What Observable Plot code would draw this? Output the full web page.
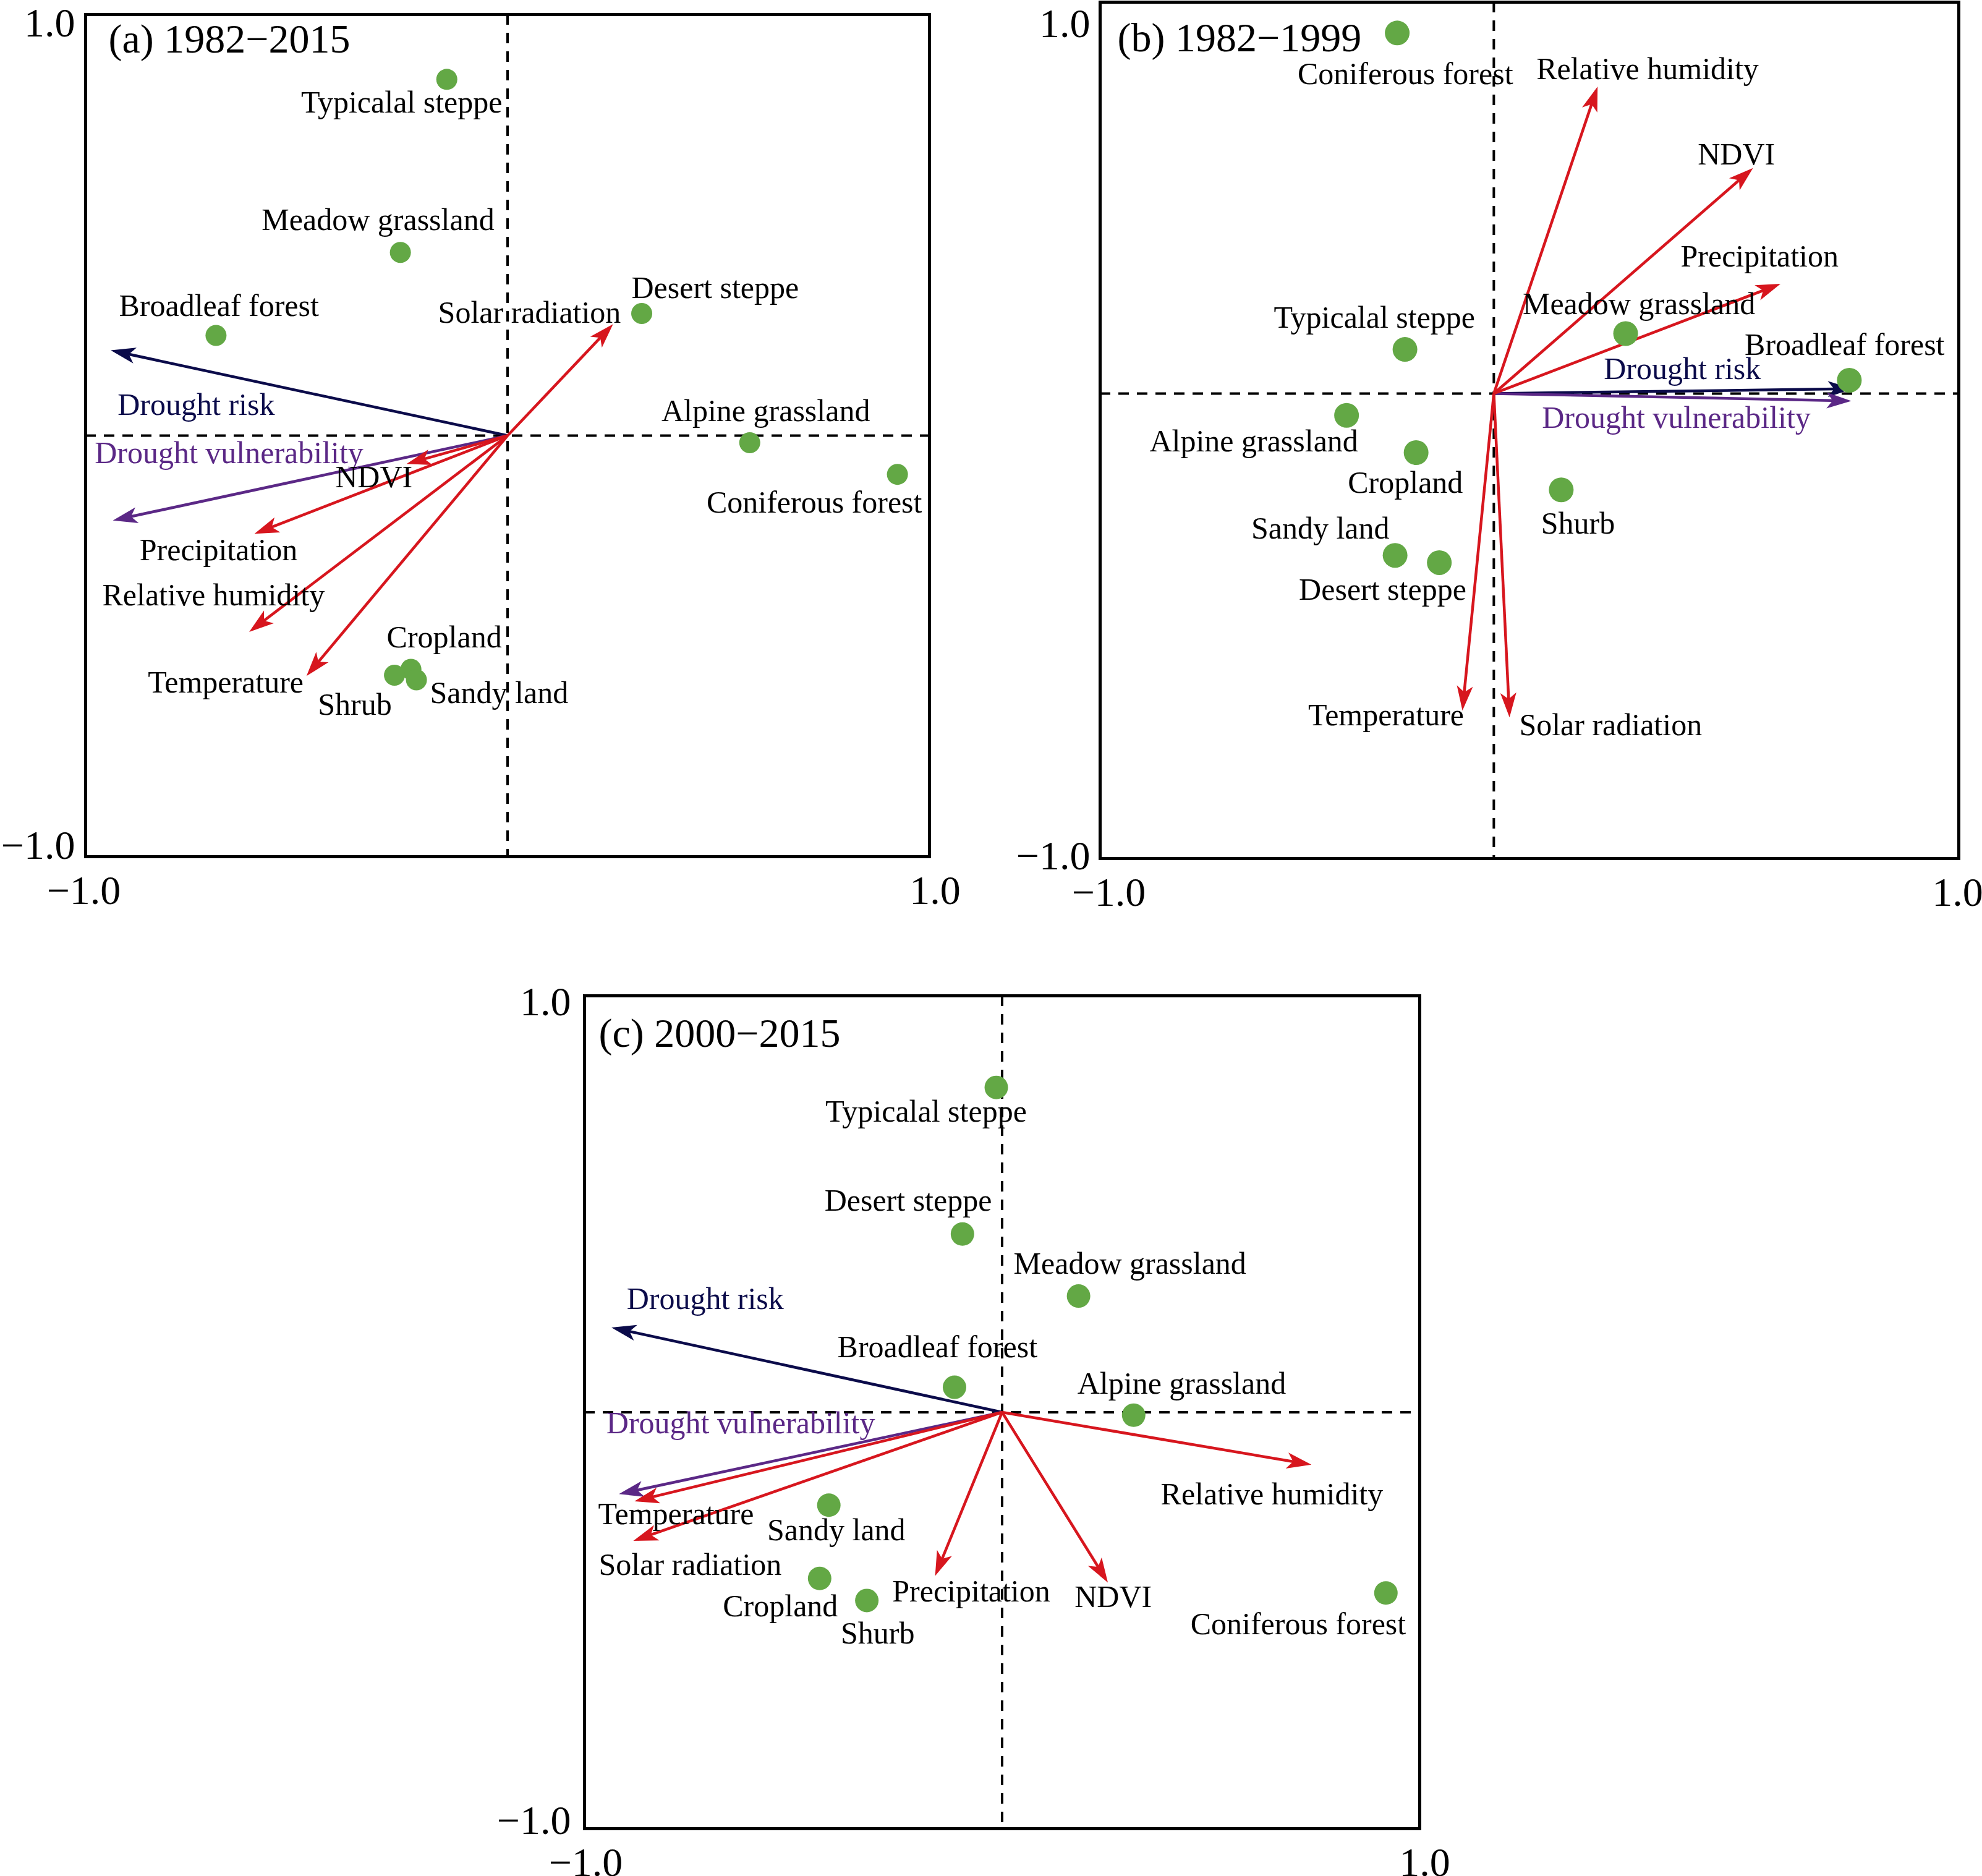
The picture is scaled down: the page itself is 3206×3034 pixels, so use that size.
<!DOCTYPE html>
<html>
<head>
<meta charset="utf-8">
<script src="https://cdn.jsdelivr.net/npm/d3@7"></script>
<script src="https://cdn.jsdelivr.net/npm/@observablehq/plot@0.6"></script>
<style>
html,body{margin:0;padding:0;background:#fff;}
#root{position:relative;width:3206px;height:3034px;background:#fff;overflow:hidden;}
.panel{position:absolute;}
</style>
</head>
<body>
<div id="root"></div>
<script>
// ---------------- DATA ----------------
const variables = ["Drought risk","Drought vulnerability","NDVI","Precipitation","Relative humidity","Temperature","Solar radiation"];

// Panel (a) 1982–2015
const titleA = "(a) 1982\u22122015";
const landsA = ["Typicalal steppe","Meadow grassland","Broadleaf forest","Desert steppe","Alpine grassland","Coniferous forest","Cropland","Shrub","Sandy land"];
const landScoresA = [[-0.144,0.846],[-0.254,0.435],[-0.691,0.238],[0.318,0.290],[0.574,-0.017],[0.924,-0.092],[-0.229,-0.555],[-0.268,-0.569],[-0.216,-0.580]];
const varScoresA = [[-0.929,0.200],[-0.924,-0.199],[-0.228,-0.064],[-0.589,-0.229],[-0.603,-0.459],[-0.469,-0.562],[0.242,0.256]];
const originA = [0, 0];

// Panel (b) 1982–1999
const titleB = "(b) 1982\u22121999";
const landsB = ["Coniferous forest","Typicalal steppe","Meadow grassland","Broadleaf forest","Alpine grassland","Cropland","Shurb","Sandy land","Desert steppe"];
const landScoresB = [[-0.308,0.928],[-0.290,0.189],[0.224,0.226],[0.745,0.117],[-0.426,0.035],[-0.264,-0.052],[0.074,-0.139],[-0.313,-0.292],[-0.210,-0.309]];
const varScoresB = [[0.741,0.097],[0.738,0.069],[0.512,0.605],[0.574,0.338],[0.155,0.792],[-0.155,-0.643],[-0.047,-0.659]];
const originB = [-0.083, 0.086];

// Panel (c) 2000–2015
const titleC = "(c) 2000\u22122015";
const landsC = ["Typicalal steppe","Desert steppe","Meadow grassland","Broadleaf forest","Alpine grassland","Sandy land","Cropland","Shurb","Coniferous forest"];
const landScoresC = [[-0.014,0.780],[-0.095,0.428],[0.183,0.279],[-0.114,0.060],[0.315,-0.007],[-0.415,-0.223],[-0.437,-0.399],[-0.324,-0.452],[0.919,-0.434]];
const varScoresC = [[-0.924,0.201],[-0.906,-0.194],[0.247,-0.399],[-0.156,-0.382],[0.729,-0.124],[-0.869,-0.211],[-0.872,-0.305]];
const originC = [0, 0];

const axisTicks = [-1, 1];

// ---------------- LABEL PLACEMENT (layout) ----------------
const landLabelPosA = [[-0.251,0.791],[-0.307,0.512],[-0.684,0.307],[0.492,0.350],[0.612,0.058],[0.727,-0.160],[-0.150,-0.480],[-0.362,-0.640],[-0.020,-0.612]];
const varLabelPosA = [[-0.738,0.072],[-0.660,-0.042],[-0.317,-0.099],[-0.685,-0.272],[-0.697,-0.379],[-0.668,-0.587],[0.052,0.292]];
const landLabelPosB = [[-0.289,0.832],[-0.361,0.263],[0.255,0.294],[0.734,0.199],[-0.642,-0.026],[-0.289,-0.123],[0.113,-0.218],[-0.487,-0.230],[-0.342,-0.373]];
const varLabelPosB = [[0.356,0.143],[0.342,0.029],[0.482,0.644],[0.536,0.406],[0.275,0.843],[-0.334,-0.666],[0.189,-0.689]];
const landLabelPosC = [[-0.182,0.721],[-0.225,0.508],[0.306,0.357],[-0.155,0.156],[0.430,0.068],[-0.397,-0.283],[-0.531,-0.466],[-0.298,-0.531],[0.709,-0.510]];
const varLabelPosC = [[-0.711,0.272],[-0.626,-0.026],[0.266,-0.444],[-0.074,-0.431],[0.646,-0.197],[-0.781,-0.245],[-0.747,-0.367]];

// ---------------- STYLE ----------------
const RED = "#d7161e", NAVY = "#0b0b4a", PURPLE = "#5b2886", GREEN = "#63a845";
const FONT = "'Liberation Serif','Times New Roman',Times,serif";
const varColor = n => n === "Drought risk" ? NAVY : n === "Drought vulnerability" ? PURPLE : RED;
const varTextColor = n => n === "Drought risk" ? NAVY : n === "Drought vulnerability" ? PURPLE : "#000000";
const fmt = d => (d < 0 ? "\u2212" : "") + Math.abs(d).toFixed(1);

function headMarker(color) {
  const m = d3.create("svg:marker")
    .attr("viewBox", "-40 -16 50 32")
    .attr("markerWidth", 50).attr("markerHeight", 32)
    .attr("markerUnits", "userSpaceOnUse")
    .attr("refX", 0).attr("refY", 0)
    .attr("orient", "auto");
  m.append("path").attr("fill", color).attr("stroke", "none")
    .attr("d", "M8,0L-32,-13L-22,0L-32,13Z");
  return m.node();
}

function panel(cfg) {
  const [ox, oy] = cfg.origin;
  const pts = cfg.lands.map((n, i) => ({name: n, x: cfg.landScores[i][0], y: cfg.landScores[i][1], lx: cfg.landLab[i][0], ly: cfg.landLab[i][1]}));
  const vars = variables.map((n, i) => ({name: n, x: cfg.varScores[i][0], y: cfg.varScores[i][1], lx: cfg.varLab[i][0], ly: cfg.varLab[i][1], color: varColor(n), tcolor: varTextColor(n)}));
  const fw = cfg.frameW, fh = cfg.frameH;
  const m = cfg.margins;
  const axisCommon = {tickSize: 0, fontSize: 66, tickFormat: fmt, label: null};
  return Plot.plot({
    width: m.left + fw + m.right,
    height: m.top + fh + m.bottom,
    marginLeft: m.left, marginRight: m.right, marginTop: m.top, marginBottom: m.bottom,
    x: {domain: [-1, 1], axis: null},
    y: {domain: [-1, 1], axis: null},
    color: {type: "identity"},
    style: {fontFamily: FONT, background: "transparent", overflow: "visible", color: "#000"},
    marks: [
      Plot.ruleX([ox], {stroke: "#000", strokeWidth: 4, strokeDasharray: "17,13"}),
      Plot.ruleY([oy], {stroke: "#000", strokeWidth: 4, strokeDasharray: "17,13"}),
      Plot.link(vars, {x1: () => ox, y1: () => oy, x2: "x", y2: "y", stroke: "color", strokeWidth: 4.5, markerEnd: headMarker}),
      Plot.dot(pts, {x: "x", y: "y", r: cfg.r, fill: GREEN}),
      Plot.text(pts, {x: "lx", y: "ly", text: "name", fontSize: 50, fill: "#000", lineAnchor: "middle"}),
      Plot.text(vars, {x: "lx", y: "ly", text: "name", fontSize: 50, fill: "tcolor", lineAnchor: "middle"}),
      Plot.frame({stroke: "#000", strokeWidth: 5}),
      Plot.text([cfg.title], {frameAnchor: "top-left", dx: cfg.titleDx, dy: cfg.titleDy, textAnchor: "start", lineAnchor: "middle", fontSize: 66, fill: "#000"}),
      Plot.axisX({...axisCommon, ticks: [axisTicks[0]], tickPadding: 30, dx: cfg.xdx[0]}),
      Plot.axisX({...axisCommon, ticks: [axisTicks[1]], tickPadding: 30, dx: cfg.xdx[1]}),
      Plot.axisY({...axisCommon, ticks: [axisTicks[1]], tickPadding: cfg.yPad, dy: cfg.ydy[1]}),
      Plot.axisY({...axisCommon, ticks: [axisTicks[0]], tickPadding: cfg.yPad, dy: cfg.ydy[0]})
    ]
  });
}

const root = document.getElementById("root");
function place(svg, left, top) {
  const d = document.createElement("div");
  d.className = "panel";
  d.style.left = left + "px";
  d.style.top = top + "px";
  d.appendChild(svg);
  root.appendChild(d);
}

place(panel({
  title: titleA, lands: landsA, landScores: landScoresA, varScores: varScoresA, origin: originA,
  landLab: landLabelPosA, varLab: varLabelPosA, r: 17,
  frameW: 1365, frameH: 1362, margins: {left: 138, right: 50, top: 23, bottom: 110},
  titleDx: 37, titleDy: 40, xdx: [-3, 9], ydy: [-18, 14], yPad: 17
}), 0, 0);

place(panel({
  title: titleB, lands: landsB, landScores: landScoresB, varScores: varScoresB, origin: originB,
  landLab: landLabelPosB, varLab: varLabelPosB, r: 20,
  frameW: 1389, frameH: 1385, margins: {left: 140, right: 38, top: 3, bottom: 110},
  titleDx: 28, titleDy: 58, xdx: [14, -2], ydy: [-4, 35], yPad: 16
}), 1639, 0);

place(panel({
  title: titleC, lands: landsC, landScores: landScoresC, varScores: varScoresC, origin: originC,
  landLab: landLabelPosC, varLab: varLabelPosC, r: 19,
  frameW: 1351, frameH: 1347, margins: {left: 140, right: 60, top: 40, bottom: 77},
  titleDx: 23, titleDy: 61, xdx: [2, 8], ydy: [-13, 10], yPad: 22
}), 805, 1570);
</script>
</body>
</html>
